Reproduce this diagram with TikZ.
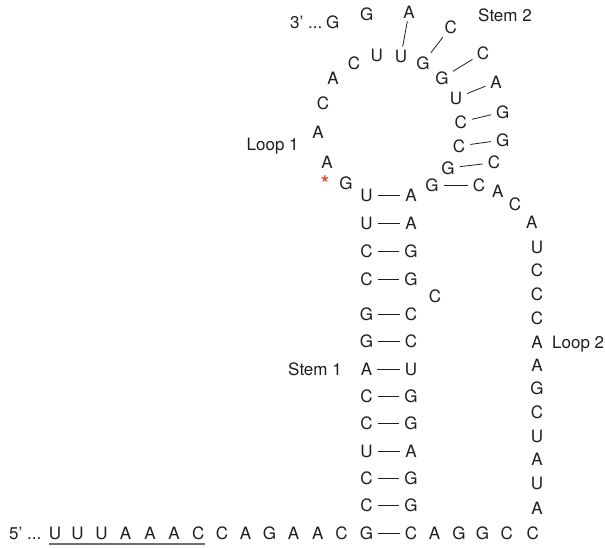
\documentclass[tikz,border=0pt]{standalone}
\usepackage{fontspec}
\setmainfont{TeX Gyre Heros}
\definecolor{ink}{HTML}{1E1E1E}
\definecolor{starred}{HTML}{E8322A}
\definecolor{rule}{HTML}{6E6E6E}
\begin{document}
\begin{tikzpicture}[x=1pt,y=-1pt,
  nt/.style={inner sep=0pt, text height=12.2pt, text depth=0pt,
             font=\fontsize{17}{19}\selectfont, text=ink},
  bp/.style={draw=ink, line width=0.8pt, shorten >=5pt, shorten <=5pt}]
\useasboundingbox (0,0) rectangle (605,548);

% ---- 5' strand along the bottom ----
\node[nt, anchor=west] (five) at (9,533) {5’ ...};
\node[nt] (b1) at (55,533) {U};
\node[nt] (b2) at (77.5,533) {U};
\node[nt] (b3) at (101.5,533) {U};
\node[nt] (b4) at (125.5,533) {A};
\node[nt] (b5) at (150,533) {A};
\node[nt] (b6) at (174,533) {A};
\node[nt] (b7) at (198.3,533) {C};
\node[nt] (b8) at (222,533) {C};
\node[nt] (b9) at (245.5,533) {A};
\node[nt] (b10) at (269.5,533) {G};
\node[nt] (b11) at (293.5,533) {A};
\node[nt] (b12) at (317.7,533) {A};
\node[nt] (b13) at (341.5,533) {C};
\node[nt] (b14) at (366.5,533) {G};
\node[nt] (b15) at (411,533) {C};
\node[nt] (b16) at (434.5,533) {A};
\node[nt] (b17) at (459,533) {G};
\node[nt] (b18) at (482.5,533) {G};
\node[nt] (b19) at (506.7,533) {C};
\node[nt] (b20) at (532.7,533) {C};
\draw[rule, line width=1.4pt] (48.5,544) coordinate (ul0) -- (205,544) coordinate (ul1);

% ---- Stem 1 ----
\foreach \n/\y/\l/\r in {1/195/U/A, 2/223/U/A, 3/251.5/C/G, 4/279/C/G,
    5/314/G/C, 6/341.7/G/C, 7/369/A/U, 8/396.7/C/G, 9/423.3/C/G,
    10/451.7/U/A, 11/478.3/C/G, 12/505.7/C/G}{
  \node[nt] (sl\n) at (366.5,\y) {\l};
  \node[nt] (sr\n) at (411,\y) {\r};
  \draw[bp] (sl\n) -- (sr\n);
}
\draw[bp] (b14) -- (b15);
\node[nt] (bulge) at (435,296) {C};
\node[nt] (stemone) at (315,369) {Stem 1};

% ---- Loop 2 ----
\node[nt] (q1) at (497.7,191.7) {A};
\node[nt] (q2) at (515,204) {C};
\node[nt] (q3) at (531.7,222) {A};
\foreach \n/\y/\l in {4/247/U, 5/270.7/C, 6/294.5/C, 7/318.3/C, 8/342/A,
    9/365/A, 10/388.5/G, 11/412/C, 12/436/U, 13/459.5/A, 14/483.5/U, 15/508.3/A}{
  \node[nt] (q\n) at (537,\y) {\l};
}
\node[nt, anchor=west] (looptwo) at (552,342) {Loop 2};

% ---- Loop 1 ----
\node[nt, text=starred, font=\fontsize{23}{25}\selectfont] (star) at (325,186) {*};
\node[nt] (g0) at (346,183) {G};
\node[nt] (l1) at (327,162) {A};
\node[nt] (l2) at (318,132) {A};
\node[nt] (l3) at (323,103) {C};
\node[nt] (l4) at (333,78) {A};
\node[nt] (l5) at (354,63) {C};
\node[nt] (l6) at (376.7,55) {U};
\node[nt] (loopone) at (272.7,144) {Loop 1};

% ---- Stem 2 (inner strand, then outer strand) ----
\node[nt] (i1) at (401,56) {U};
\node[nt] (i2) at (423,63) {G};
\node[nt] (i3) at (442,78) {G};
\node[nt] (i4) at (456,98) {U};
\node[nt] (i5) at (460.7,122) {C};
\node[nt] (i6) at (459,146) {C};
\node[nt] (i7) at (448,168) {G};
\node[nt] (i8) at (432,185) {G};

\node[nt] (o1) at (409,12) {A};
\node[nt] (o2) at (450.7,27) {C};
\node[nt] (o3) at (483,53) {C};
\node[nt] (o4) at (496,82) {A};
\node[nt] (o5) at (502.7,112) {G};
\node[nt] (o6) at (502.7,140) {G};
\node[nt] (o7) at (494,162.7) {C};
\node[nt] (o8) at (479,185) {C};
\draw[bp, shorten <=3pt, shorten >=3pt] (i1) -- (o1);
\foreach \n in {2,...,8}{\draw[bp] (i\n) -- (o\n);}

% ---- 3' end ----
\node[nt] (t1) at (366.7,14) {G};
\node[nt] (t2) at (332.7,22) {G};
\node[nt, anchor=west] (three) at (290,22) {3’ ...};
\node[nt] (stemtwo) at (505,15) {Stem 2};
\end{tikzpicture}
\end{document}
